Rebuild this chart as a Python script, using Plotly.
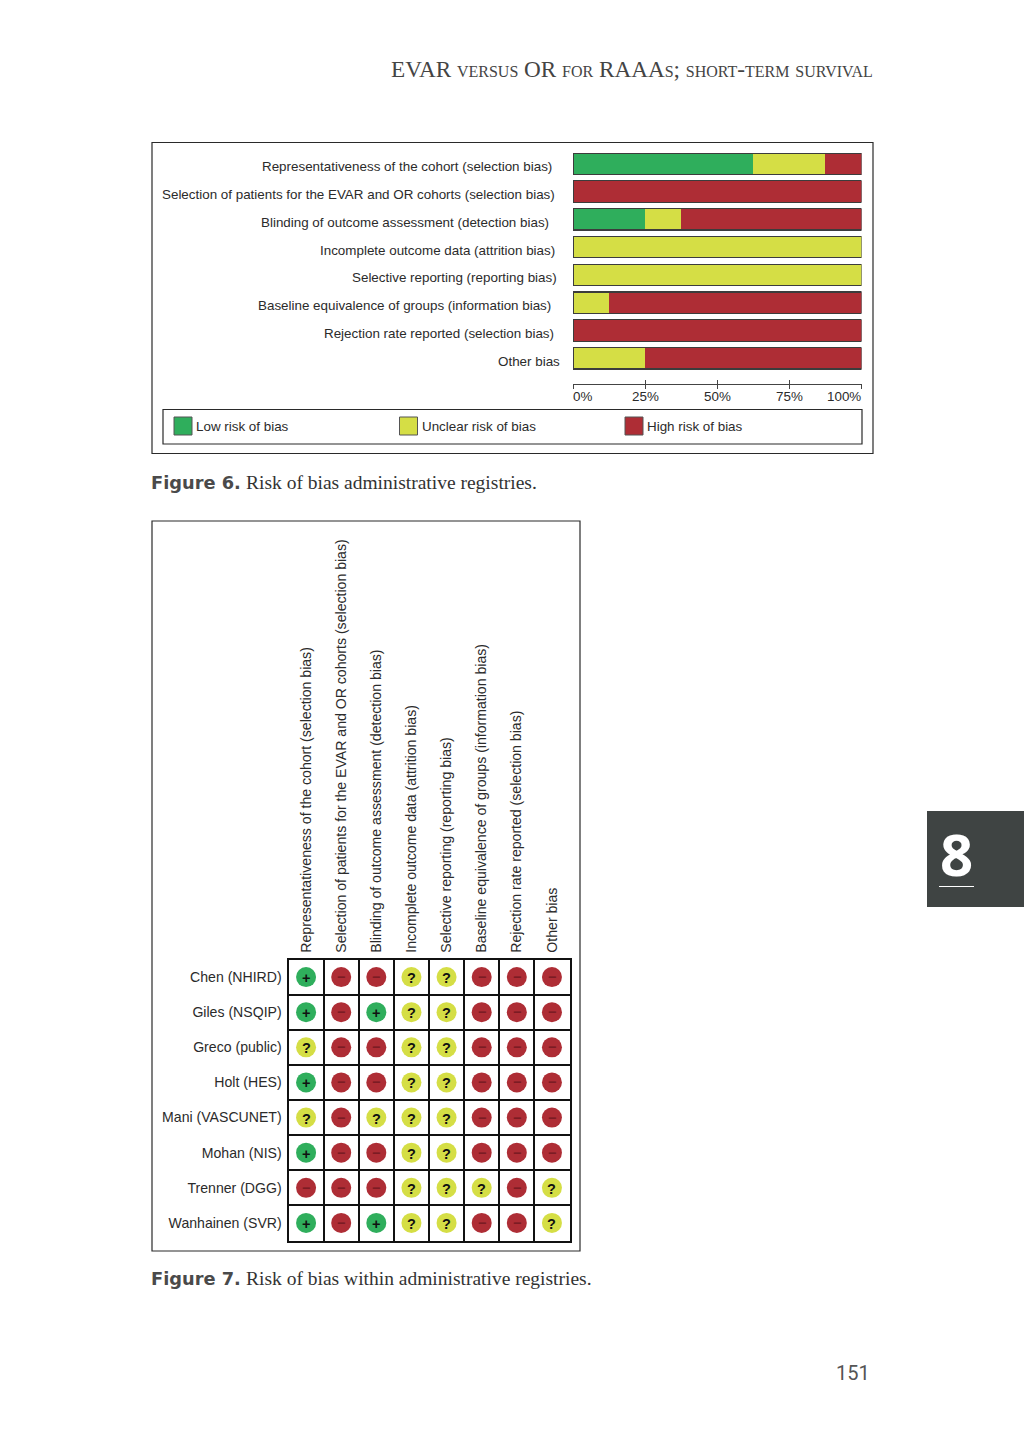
import plotly.graph_objects as go

# ---- data ----
domains = [
    "Representativeness of the cohort (selection bias)",
    "Selection of patients for the EVAR and OR cohorts (selection bias)",
    "Blinding of outcome assessment (detection bias)",
    "Incomplete outcome data (attrition bias)",
    "Selective reporting (reporting bias)",
    "Baseline equivalence of groups (information bias)",
    "Rejection rate reported (selection bias)",
    "Other bias",
]
low_risk = [62.5, 0, 25, 0, 0, 0, 0, 0]
unclear_risk = [25, 0, 12.5, 100, 100, 12.5, 0, 25]
high_risk = [12.5, 100, 62.5, 0, 0, 87.5, 100, 75]
pct_ticks = [0, 25, 50, 75, 100]
pct_labels = ["0%", "25%", "50%", "75%", "100%"]
legend_labels = ["Low risk of bias", "Unclear risk of bias", "High risk of bias"]

studies = [
    "Chen (NHIRD)", "Giles (NSQIP)", "Greco (public)", "Holt (HES)",
    "Mani (VASCUNET)", "Mohan (NIS)", "Trenner (DGG)", "Wanhainen (SVR)",
]
judgements = [
    ["+", "-", "-", "?", "?", "-", "-", "-"],
    ["+", "-", "+", "?", "?", "-", "-", "-"],
    ["?", "-", "-", "?", "?", "-", "-", "-"],
    ["+", "-", "-", "?", "?", "-", "-", "-"],
    ["?", "-", "?", "?", "?", "-", "-", "-"],
    ["+", "-", "-", "?", "?", "-", "-", "-"],
    ["-", "-", "-", "?", "?", "?", "-", "?"],
    ["+", "-", "+", "?", "?", "-", "-", "?"],
]

# ---- style ----
W, H = 1024, 1440
GREEN, YELLOW, RED = "#2FAE5C", "#D5DE45", "#AE2D35"
TXT = "#2b2b2b"
DARK = "#2a2a2a"
SANS = "Liberation Sans"
SERIF = "Liberation Serif"
FS = 13.4
FS2 = 14.1


def px(x):
    return x / W


def py(y):
    return 1 - y / H


label_right = [554, 557, 551, 557, 559, 553, 556, 562]
fig = go.Figure()

# stacked bars
for name, vals, col in zip(legend_labels, [low_risk, unclear_risk, high_risk], [GREEN, YELLOW, RED]):
    fig.add_trace(go.Bar(y=domains, x=vals, orientation="h", name=name, marker=dict(color=col, line_width=0),
                         xaxis="x", yaxis="y", showlegend=False, hoverinfo="skip"))
# bar outlines on an overlay axis that also carries the inner half of the ticks
fig.add_trace(go.Bar(y=domains, x=[a + b + c for a, b, c in zip(low_risk, unclear_risk, high_risk)],
                     orientation="h", marker=dict(color="rgba(0,0,0,0)", line=dict(color="#3c3c3c", width=1.2)),
                     xaxis="x2", yaxis="y2", showlegend=False, hoverinfo="skip"))

# judgement dots
x_plus, y_plus, x_q, y_q, x_m, y_m = [], [], [], [], [], []
for r, row in enumerate(judgements):
    for c, v in enumerate(row):
        if v == "+":
            x_plus.append(c); y_plus.append(r)
        elif v == "?":
            x_q.append(c); y_q.append(r)
        else:
            x_m.append(c); y_m.append(r)

ann = []
for xs, ys, col, sym, tcol, shift in [
    (x_plus, y_plus, GREEN, "<b>+</b>", "#111111", -1),
    (x_q, y_q, YELLOW, "<b>?</b>", "#111111", -1),
    (x_m, y_m, RED, "<b>−</b>", "#7c1c24", 0),
]:
    fig.add_trace(go.Scatter(x=xs, y=ys, mode="markers", marker=dict(size=20, color=col, line_width=0),
                             xaxis="x3", yaxis="y3", showlegend=False, hoverinfo="skip"))
    for a, b in zip(xs, ys):
        ann.append(dict(xref="x3", yref="y3", x=a, y=b, yshift=shift, text=sym, showarrow=False,
                        xanchor="center", yanchor="middle", font=dict(family=SANS, size=14.5, color=tcol)))

shapes = []


def rect(x0, y0, x1, y1, fill="rgba(0,0,0,0)", line=DARK, lw=1.2):
    shapes.append(dict(type="rect", xref="paper", yref="paper", x0=px(x0), x1=px(x1), y0=py(y0), y1=py(y1),
                       fillcolor=fill, line=dict(color=line, width=lw), layer="below"))


rect(152, 142.5, 873, 453.5)
rect(163, 409.5, 862, 444)
rect(152, 521, 580, 1251)
rect(927, 811, 1024, 907, fill="#3F4443", line="#3F4443", lw=0)
shapes.append(dict(type="line", xref="paper", yref="paper", x0=px(939), x1=px(974), y0=py(886.5), y1=py(886.5),
                   line=dict(color="white", width=1)))


def text(x, y, s, size, anchor="left", family=SANS, color=TXT, **kw):
    ann.append(dict(xref="paper", yref="paper", x=px(x), y=py(y), text=s, showarrow=False, xanchor=anchor,
                    yanchor="middle", font=dict(family=family, size=size, color=color, **kw)))


# legend
for name, col, sx in zip(legend_labels, [GREEN, YELLOW, RED], [174, 399.5, 625]):
    rect(sx, 417, sx + 18, 435, fill=col, line="#555555", lw=1)
    text(sx + 20, 426.5, name, FS)

# row labels
for d, r in zip(domains, label_right):
    ann.append(dict(xref="paper", yref="y", x=px(r), y=d, yshift=-3, text=d, showarrow=False, xanchor="right",
                    yanchor="middle", font=dict(family=SANS, size=FS, color=TXT)))

# percentage labels
for t, l in zip(pct_ticks, pct_labels):
    anchor = "left" if t == 0 else ("right" if t == 100 else "center")
    nudge = -2 if t == 0 else (1 if t == 100 else 0)
    ann.append(dict(xref="x", yref="paper", x=t, y=py(396.5), xshift=nudge, text=l, showarrow=False, xanchor=anchor,
                    yanchor="middle", font=dict(family=SANS, size=FS, color=TXT)))

# page furniture
text(875, 68.5, "EVAR versus OR for RAAAs; short-term survival", 23.2, anchor="right", family=SERIF, color="#444444",
     variant="small-caps")
text(149, 482.5, "<b>Figure 6.</b>", 17.8, family="DejaVu Sans", color="#4a4a4a")
text(244, 482.5, "Risk of bias administrative registries.", 19.5, family=SERIF, color="#333333")
text(149, 1278.5, "<b>Figure 7.</b>", 17.8, family="DejaVu Sans", color="#4a4a4a")
text(244, 1278.5, "Risk of bias within administrative registries.", 19.5, family=SERIF, color="#333333")
text(872, 1372.5, "151", 20, anchor="right", family="Roboto", color="#555555")
text(956.5, 853, "<b>8</b>", 58, anchor="center", family="Open Sans", color="white", weight=800)

pitch = 27.79
y0 = 163.8
y_range = [(384 - y0) / pitch, (150 - y0) / pitch]
x_dom = [px(573), px(861.5)]
y_dom = [py(384), py(150)]
edges = [i - 0.5 for i in range(9)]

fig.update_layout(
    width=W, height=H, margin=dict(l=0, r=0, t=0, b=0), paper_bgcolor="white", plot_bgcolor="rgba(0,0,0,0)",
    barmode="stack", bargap=0.23, shapes=shapes, annotations=ann, showlegend=False,
    xaxis=dict(domain=x_dom, range=[0, 100], anchor="y", tickvals=pct_ticks, ticks="outside", ticklen=4, tickwidth=1.2,
               tickcolor="#444444", showticklabels=False, showgrid=False, zeroline=False,
               showline=True, linecolor="#444444", linewidth=1.2),
    yaxis=dict(domain=y_dom, range=y_range, anchor="x", type="category", categoryorder="array",
               categoryarray=domains, showticklabels=False, showgrid=False, zeroline=False),
    xaxis2=dict(domain=x_dom, range=[0, 100], overlaying="x", anchor="y2", tickvals=pct_ticks, ticks="inside",
                ticklen=4, tickwidth=1.2, tickcolor="#444444", showticklabels=False, showgrid=False, zeroline=False),
    yaxis2=dict(domain=y_dom, range=y_range, overlaying="y", anchor="x2", type="category", categoryorder="array",
                categoryarray=domains, showticklabels=False, showgrid=False, zeroline=False),
    xaxis3=dict(domain=[px(288.5), px(569.5)], range=[-0.5, 7.5], anchor="y3", side="top", tickmode="array",
                tickvals=list(range(8)), ticktext=domains, tickangle=-90, ticklabelstandoff=2,
                tickfont=dict(family=SANS, size=FS2, color=TXT), showgrid=False, zeroline=False, ticks="",
                showline=True, mirror=True, linecolor="#111111", linewidth=2,
                minor=dict(tickmode="array", tickvals=edges, showgrid=True, gridcolor="#111111", gridwidth=2, ticks="")),
    yaxis3=dict(domain=[py(1240.5), py(959.5)], range=[7.5, -0.5], anchor="x3", tickmode="array",
                tickvals=list(range(8)), ticktext=studies, ticklabelstandoff=2,
                tickfont=dict(family=SANS, size=FS2, color=TXT), showgrid=False, zeroline=False, ticks="",
                showline=True, mirror=True, linecolor="#111111", linewidth=2,
                minor=dict(tickmode="array", tickvals=edges, showgrid=True, gridcolor="#111111", gridwidth=2, ticks="")),
)

fig.write_html("out.html", post_script="document.body.style.margin='0';", config=dict(displayModeBar=False))
